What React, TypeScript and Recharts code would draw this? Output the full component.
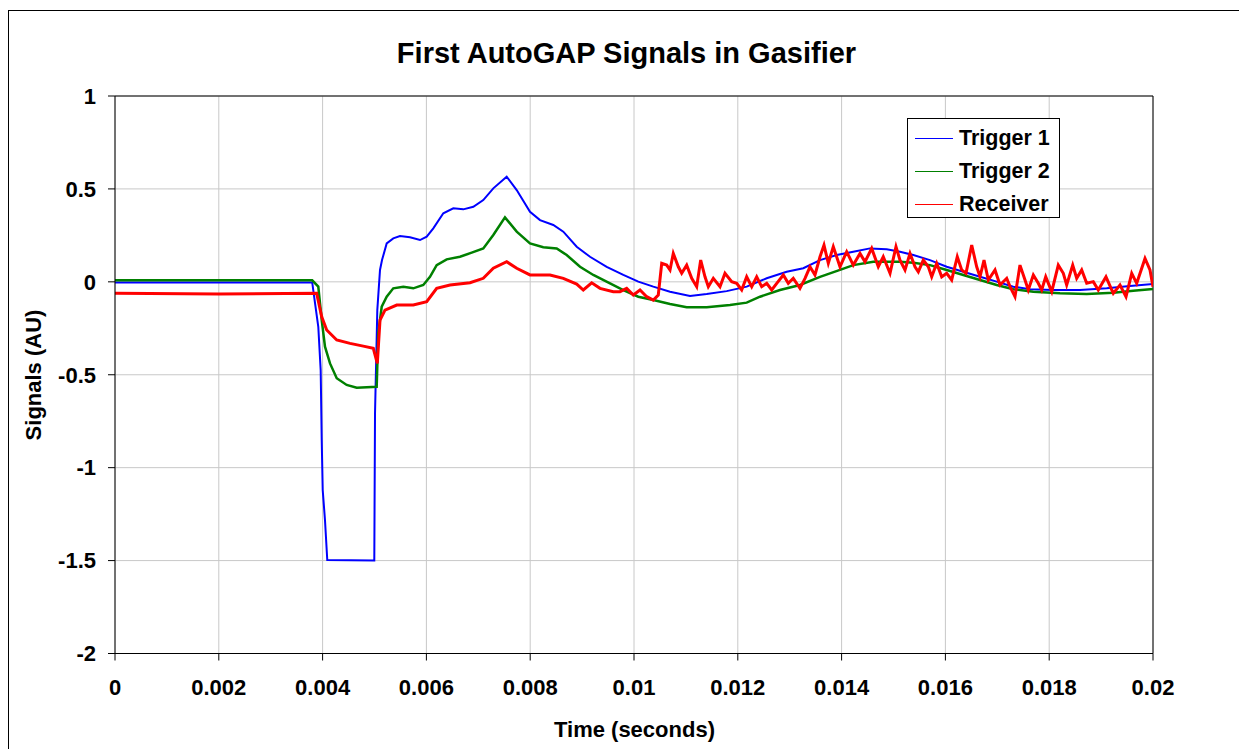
import React from 'react'
import { LineChart, Line, XAxis, YAxis, CartesianGrid, Legend, ReferenceLine } from 'recharts'

// time (s), signal (AU)
const trigger1: [number, number][] = [
  [0, -0.003], [0.0038, -0.003], [0.003854, -0.114], [0.003917, -0.242], [0.003963, -0.475],
  [0.003983, -0.851], [0.004002, -1.12], [0.004046, -1.282], [0.00409, -1.497], [0.004996, -1.5],
  [0.00501, -0.708], [0.005054, -0.152], [0.005106, 0.064], [0.005145, 0.117], [0.005235, 0.207],
  [0.005362, 0.234], [0.005491, 0.246], [0.005684, 0.24], [0.005877, 0.225], [0.006006, 0.243],
  [0.006133, 0.288], [0.006326, 0.369], [0.006518, 0.396], [0.006711, 0.39], [0.006904, 0.404],
  [0.007096, 0.44], [0.007289, 0.503], [0.007547, 0.566], [0.00774, 0.494], [0.007996, 0.377],
  [0.008189, 0.332], [0.008445, 0.306], [0.008638, 0.27], [0.008896, 0.189], [0.009152, 0.135],
  [0.009474, 0.081], [0.009794, 0.037], [0.010083, 0.001], [0.010372, -0.026], [0.010694, -0.053],
  [0.011079, -0.076], [0.011401, -0.066], [0.011786, -0.05], [0.012171, -0.026], [0.012557, 0.019],
  [0.012942, 0.054], [0.013262, 0.073], [0.013584, 0.117], [0.013905, 0.144], [0.014225, 0.162],
  [0.014547, 0.18], [0.014869, 0.175], [0.015125, 0.162], [0.015382, 0.144], [0.015703, 0.117],
  [0.016025, 0.081], [0.016345, 0.054], [0.016667, 0.027], [0.016988, 0.001], [0.017308, -0.026],
  [0.01763, -0.04], [0.018079, -0.044], [0.018593, -0.044], [0.019108, -0.035], [0.019557, -0.023],
  [0.02, -0.012],
]

const trigger2: [number, number][] = [
  [0, 0.008], [0.0038, 0.008], [0.003917, -0.026], [0.003983, -0.206], [0.004046, -0.349],
  [0.004143, -0.439], [0.004272, -0.519], [0.004464, -0.555], [0.004657, -0.57], [0.005042, -0.565],
  [0.005073, -0.277], [0.005139, -0.134], [0.005235, -0.08], [0.005362, -0.035], [0.005555, -0.026],
  [0.005748, -0.035], [0.00594, -0.017], [0.006069, 0.027], [0.006198, 0.09], [0.006391, 0.121],
  [0.006647, 0.135], [0.006873, 0.157], [0.007096, 0.18], [0.007289, 0.252], [0.007514, 0.347],
  [0.00774, 0.27], [0.007996, 0.207], [0.008252, 0.186], [0.008511, 0.18], [0.008703, 0.144],
  [0.00896, 0.081], [0.009216, 0.037], [0.009538, -0.008], [0.009794, -0.044], [0.010083, -0.08],
  [0.010372, -0.098], [0.010694, -0.119], [0.011015, -0.137], [0.011401, -0.137], [0.01185, -0.125],
  [0.012171, -0.112], [0.012428, -0.08], [0.012813, -0.044], [0.013198, -0.017], [0.013584, 0.027],
  [0.013969, 0.064], [0.014225, 0.09], [0.014611, 0.108], [0.015125, 0.108], [0.015382, 0.103],
  [0.015703, 0.09], [0.016025, 0.064], [0.016345, 0.037], [0.016667, 0.01], [0.016988, -0.017],
  [0.017308, -0.04], [0.017694, -0.053], [0.018208, -0.062], [0.018723, -0.066], [0.019235, -0.059],
  [0.01962, -0.048], [0.02, -0.039],
]

const receiver: [number, number][] = [
  [0, -0.062], [0.002, -0.065], [0.003886, -0.062], [0.003983, -0.188], [0.004079, -0.259],
  [0.004272, -0.313], [0.004528, -0.331], [0.004784, -0.346], [0.004977, -0.358], [0.005054, -0.439],
  [0.005106, -0.206], [0.005202, -0.152], [0.005428, -0.125], [0.005748, -0.125], [0.006006, -0.107],
  [0.006198, -0.035], [0.006455, -0.017], [0.00684, -0.005], [0.007096, 0.019], [0.007289, 0.073],
  [0.007547, 0.108], [0.00774, 0.073], [0.007996, 0.037], [0.008382, 0.037], [0.008638, 0.019],
  [0.008896, -0.012], [0.009023, -0.044], [0.009185, -0.005], [0.009345, -0.035], [0.009601, -0.053],
  [0.00973, -0.053], [0.009859, -0.035], [0.009987, -0.071], [0.010116, -0.044], [0.010245, -0.08],
  [0.010372, -0.098], [0.010468, -0.071], [0.010534, 0.1], [0.01063, 0.09], [0.010694, 0.064],
  [0.010757, 0.153], [0.010854, 0.081], [0.010919, 0.046], [0.011015, 0.09], [0.011112, 0.019],
  [0.011208, -0.026], [0.011285, 0.117], [0.011368, 0.027], [0.011432, -0.026], [0.011528, 0.019],
  [0.011657, -0.026], [0.011753, 0.046], [0.011882, 0.001], [0.011979, -0.008], [0.012075, -0.044],
  [0.012171, 0.027], [0.012268, -0.026], [0.012364, 0.027], [0.01246, -0.026], [0.012557, -0.008],
  [0.012653, -0.044], [0.01275, -0.008], [0.012877, 0.037], [0.012973, -0.008], [0.013069, 0.019],
  [0.013198, -0.035], [0.013295, 0.019], [0.013391, 0.081], [0.013487, 0.037], [0.013584, 0.135],
  [0.013661, 0.198], [0.013744, 0.1], [0.01384, 0.189], [0.013969, 0.081], [0.014098, 0.162],
  [0.014225, 0.09], [0.014355, 0.153], [0.014451, 0.108], [0.01458, 0.18], [0.014707, 0.081],
  [0.014803, 0.135], [0.014933, 0.046], [0.015048, 0.189], [0.015125, 0.117], [0.015222, 0.064],
  [0.015318, 0.153], [0.015414, 0.081], [0.015478, 0.054], [0.015574, 0.117], [0.015671, 0.081],
  [0.015736, 0.027], [0.015832, 0.1], [0.015929, 0.027], [0.016025, 0.046], [0.016121, 0.01],
  [0.016229, 0.135], [0.016314, 0.064], [0.016397, 0.046], [0.016507, 0.198], [0.016603, 0.081],
  [0.016667, 0.027], [0.016744, 0.117], [0.016827, 0.01], [0.016956, 0.064], [0.017052, -0.017],
  [0.017181, 0.019], [0.017245, -0.026], [0.017341, -0.08], [0.017437, 0.09], [0.017534, 0.01],
  [0.017597, -0.044], [0.017694, 0.037], [0.01779, -0.008], [0.017855, -0.044], [0.017933, 0.027],
  [0.018049, -0.053], [0.018175, 0.09], [0.018272, 0.046], [0.018337, -0.017], [0.018453, 0.09],
  [0.01853, 0.019], [0.018626, 0.064], [0.018723, -0.008], [0.01885, 0.001], [0.018946, -0.044],
  [0.019094, 0.027], [0.019235, -0.062], [0.019364, -0.017], [0.01948, -0.08], [0.01959, 0.046],
  [0.019686, -0.008], [0.019846, 0.126], [0.019942, 0.064], [0.02, -0.026],
]

const seriesNames = ['Trigger 1', 'Trigger 2', 'Receiver']
const xTicks = [0, 0.002, 0.004, 0.006, 0.008, 0.01, 0.012, 0.014, 0.016, 0.018, 0.02]
const xTickLabels = ['0', '0.002', '0.004', '0.006', '0.008', '0.01', '0.012', '0.014', '0.016', '0.018', '0.02']
const yTicks = [1, 0.5, 0, -0.5, -1, -1.5, -2]
const yTickLabels = ['1', '0.5', '0', '-0.5', '-1', '-1.5', '-2']

const FONT = '"Liberation Sans", Arial, Helvetica, sans-serif'
const W = 1231
const H = 739

const toRows = (pts: [number, number][]) => pts.map(([t, v]) => ({ t, v }))

const tickStyle = { fill: '#000', fontSize: 22, fontWeight: 700, fontFamily: FONT }

const LegendBox = ({ payload }: any) => {
  // keep the series order of the original legend
  const items = [...(payload || [])].sort(
    (a: any, b: any) => seriesNames.indexOf(a.value) - seriesNames.indexOf(b.value)
  )
  return (
    <div
      style={{
        boxSizing: 'border-box',
        width: 153,
        height: 100,
        border: '1px solid #000',
        background: '#fff',
        paddingTop: 2.5,
        fontFamily: FONT,
      }}
    >
      {items.map((entry: any) => (
        <div key={entry.value} style={{ display: 'flex', alignItems: 'center', height: 33 }}>
          <span
            style={{ display: 'inline-block', width: 38, marginLeft: 7, marginRight: 6, borderTop: `1.5px solid ${entry.color}` }}
          />
          <span style={{ fontSize: 21.5, fontWeight: 700, color: '#000', lineHeight: '33px' }}>{entry.value}</span>
        </div>
      ))}
    </div>
  )
}

export default function App() {
  return (
    <div style={{ position: 'absolute', left: 8, top: 10, width: W, height: H, overflow: 'hidden', background: '#fff' }}>
      <LineChart width={W} height={H} margin={{ top: 86, right: 86, bottom: 35.5, left: 0 }}>
        <CartesianGrid stroke="#c8c8c8" />
        <XAxis
          type="number"
          dataKey="t"
          domain={[0, 0.02]}
          ticks={xTicks}
          interval={0}
          allowDataOverflow
          tickFormatter={(_v: number, i: number) => xTickLabels[i]}
          height={60}
          tickSize={7}
          tickMargin={19}
          axisLine={{ stroke: '#000' }}
          tickLine={{ stroke: '#000' }}
          tick={tickStyle}
        />
        <YAxis
          type="number"
          domain={[-2, 1]}
          ticks={yTicks}
          interval={0}
          allowDataOverflow
          tickFormatter={(_v: number, i: number) => yTickLabels[i]}
          width={107}
          tickSize={7}
          tickMargin={12}
          axisLine={{ stroke: '#000' }}
          tickLine={{ stroke: '#000' }}
          tick={tickStyle}
        />
        <ReferenceLine y={1} stroke="#000" />
        <ReferenceLine x={0.02} stroke="#000" />
        <Line
          data={toRows(trigger1)}
          dataKey="v"
          name={seriesNames[0]}
          type="linear"
          stroke="#0000ff"
          strokeWidth={2}
          dot={false}
          isAnimationActive={false}
        />
        <Line
          data={toRows(trigger2)}
          dataKey="v"
          name={seriesNames[1]}
          type="linear"
          stroke="#008000"
          strokeWidth={2.5}
          dot={false}
          isAnimationActive={false}
        />
        <Line
          data={toRows(receiver)}
          dataKey="v"
          name={seriesNames[2]}
          type="linear"
          stroke="#ff0000"
          strokeWidth={3}
          dot={false}
          isAnimationActive={false}
        />
        <Legend
          content={LegendBox}
          layout="horizontal"
          verticalAlign="middle"
          wrapperStyle={{ left: 899, top: 108, width: 153, height: 100 }}
        />
      </LineChart>
      <svg
        width={W}
        height={H}
        style={{ position: 'absolute', left: 0, top: 0, pointerEvents: 'none' }}
        fontFamily={FONT}
        fontWeight={700}
      >
        <text x={618.5} y={53.3} textAnchor="middle" fontSize={29} fill="#000">
          First AutoGAP Signals in Gasifier
        </text>
        <text x={626.5} y={726.5} textAnchor="middle" fontSize={22} fill="#000">
          Time (seconds)
        </text>
        <text x={33} y={365} textAnchor="middle" fontSize={22} fill="#000" transform="rotate(-90 33 365)">
          Signals (AU)
        </text>
      </svg>
      <div
        style={{
          position: 'absolute',
          inset: 0,
          borderLeft: '1px solid #000',
          borderTop: '1px solid #000',
          pointerEvents: 'none',
        }}
      />
    </div>
  )
}
